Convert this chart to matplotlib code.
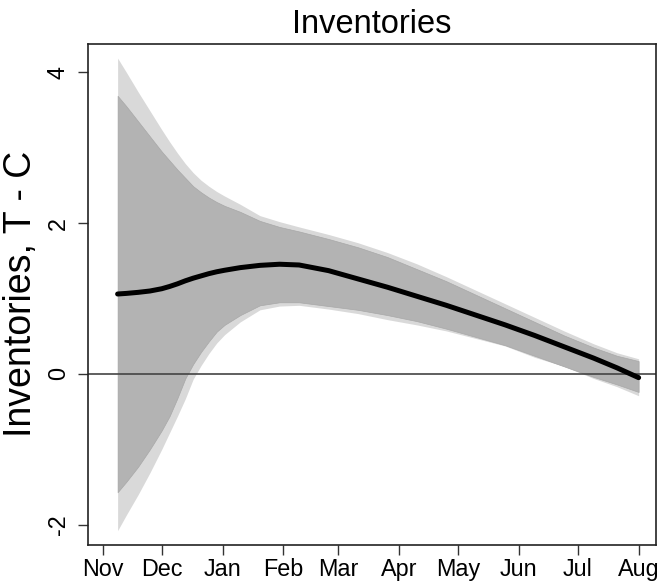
import matplotlib
matplotlib.use("Agg")
import matplotlib.pyplot as plt

plt.rcParams['font.family'] = ['Liberation Sans', 'DejaVu Sans']

# Days since 1 November
days = [7.5, 12, 18, 24, 30, 34, 38, 42, 46, 50, 54, 58, 62, 70, 80, 90, 100,
        115, 130, 145, 160, 175, 190, 205, 220, 235, 250, 262, 273]

# Point estimate (treatment minus control)
estimate = [1.06, 1.068, 1.082, 1.10, 1.13, 1.16, 1.195, 1.235, 1.27, 1.30,
            1.33, 1.355, 1.375, 1.41, 1.44, 1.455, 1.445, 1.37, 1.26, 1.15,
            1.03, 0.91, 0.78, 0.65, 0.51, 0.36, 0.21, 0.08, -0.05]

# Inner confidence band
inner_hi = [3.69, 3.55, 3.35, 3.15, 2.95, 2.83, 2.71, 2.60, 2.49, 2.41, 2.34,
            2.28, 2.23, 2.15, 2.03, 1.95, 1.89, 1.79, 1.68, 1.55, 1.39, 1.23,
            1.05, 0.87, 0.69, 0.51, 0.35, 0.24, 0.17]
inner_lo = [-1.57, -1.43, -1.23, -1.00, -0.75, -0.56, -0.32, -0.06, 0.13, 0.29,
            0.43, 0.56, 0.65, 0.78, 0.91, 0.95, 0.95, 0.90, 0.85, 0.78, 0.70,
            0.60, 0.49, 0.38, 0.24, 0.10, -0.04, -0.14, -0.24]

# Outer confidence band
outer_hi = [4.19, 4.00, 3.74, 3.49, 3.24, 3.08, 2.93, 2.79, 2.67, 2.57, 2.49,
            2.42, 2.36, 2.25, 2.10, 2.02, 1.95, 1.85, 1.74, 1.61, 1.46, 1.29,
            1.11, 0.93, 0.75, 0.57, 0.40, 0.28, 0.20]
outer_lo = [-2.08, -1.87, -1.60, -1.31, -1.00, -0.78, -0.56, -0.33, -0.07, 0.11,
            0.27, 0.41, 0.52, 0.69, 0.85, 0.90, 0.91, 0.86, 0.80, 0.72, 0.65,
            0.57, 0.47, 0.37, 0.22, 0.10, -0.06, -0.17, -0.29]

month_starts = [0, 30, 61, 92, 120, 151, 181, 212, 242, 273]
month_labels = ['Nov', 'Dec', 'Jan', 'Feb', 'Mar', 'Apr', 'May', 'Jun', 'Jul', 'Aug']
y_ticks = [-2, 0, 2, 4]

fig = plt.figure(figsize=(6.64, 5.84), dpi=100)
ax = fig.add_axes([0.1325, 0.0675, 0.855, 0.8575])

ax.fill_between(days, outer_lo, outer_hi, color='#d9d9d9', linewidth=0)
ax.fill_between(days, inner_lo, inner_hi, color='#b3b3b3',
                edgecolor='#a8a8a8', linewidth=0.5)
ax.axhline(0, color='#444444', linewidth=1.2)
ax.plot(days, estimate, color='black', linewidth=3.6, solid_capstyle='round',
        solid_joinstyle='round')

ax.set_xlim(-7.6, 281.7)
ax.set_ylim(-2.265, 4.38)

ax.set_xticks(month_starts)
ax.set_xticklabels(month_labels, fontsize=16.8)
ax.set_yticks(y_ticks)
ax.set_yticklabels([str(t) for t in y_ticks], fontsize=16.8, rotation=90,
                   va='center')

ax.tick_params(axis='both', direction='out', length=7, width=1,
               color='#333333')
ax.tick_params(axis='x', pad=2.5)
ax.tick_params(axis='y', pad=6)

for sp in ax.spines.values():
    sp.set_color('#222222')
    sp.set_linewidth(1.2)

ax.set_title('Inventories', fontsize=23.5, pad=8)
ax.set_ylabel('Inventories, T - C', fontsize=27, labelpad=6)

fig.savefig('out.png', dpi=100)
